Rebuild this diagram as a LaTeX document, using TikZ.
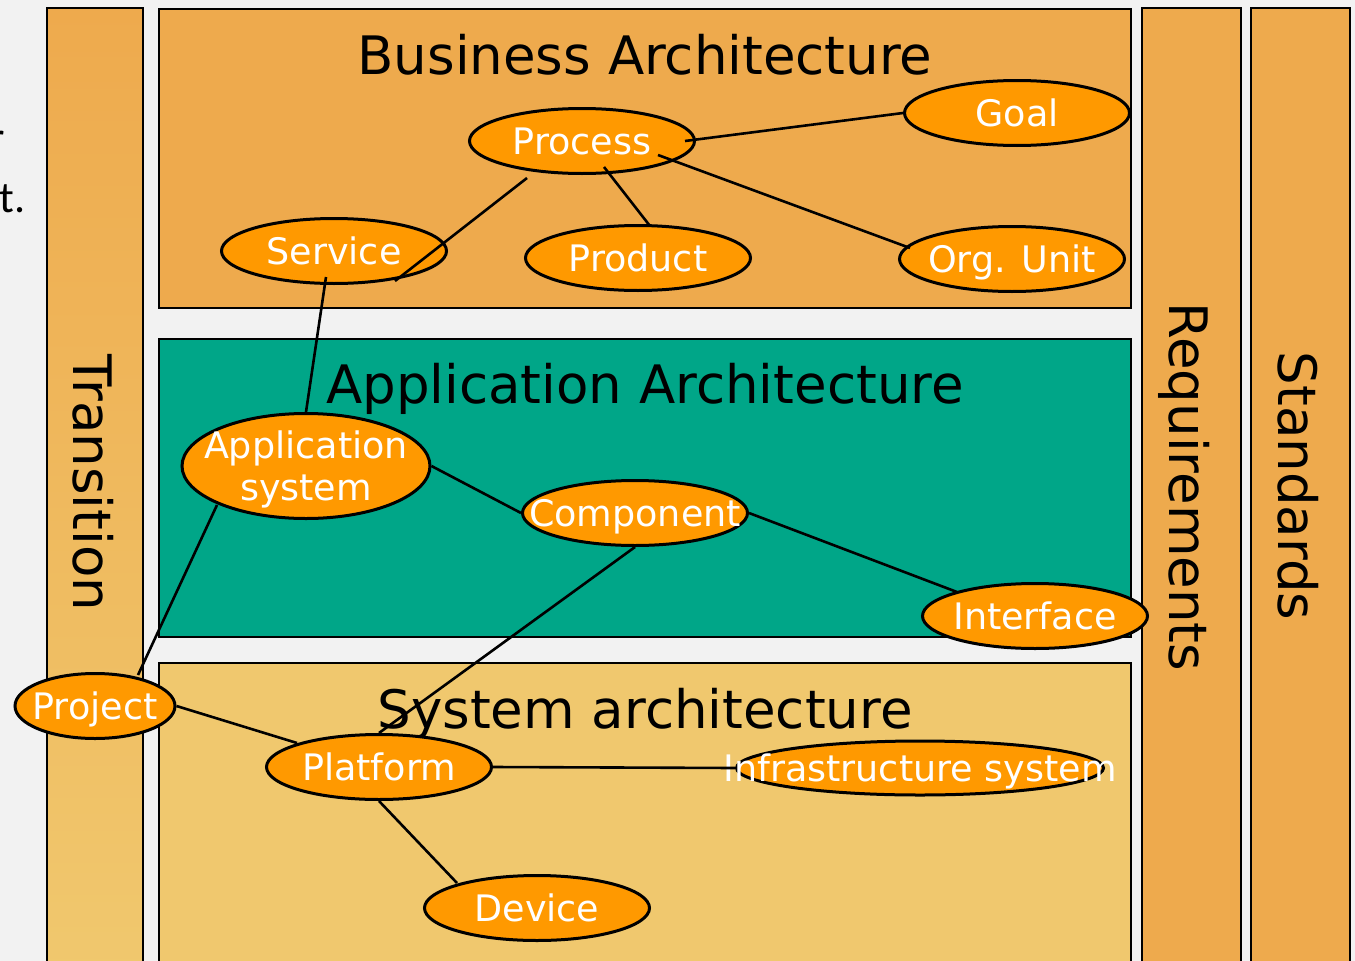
\documentclass[tikz,border=0pt]{standalone}
\usepackage{fontspec}
\setmainfont{DejaVu Sans}
\newfontfamily\slidefont{Carlito}
\usetikzlibrary{shapes.geometric}

\definecolor{pagebg}{HTML}{F2F2F2}
\definecolor{bizorange}{HTML}{EEAA4D}
\definecolor{appteal}{HTML}{00A688}
\definecolor{sysyellow}{HTML}{F0C86E}
\definecolor{ovalfill}{HTML}{FF9900}

% keeps the ellipse size independent of its text
\newcommand{\ovtext}[1]{\makebox[0pt]{#1}}

\begin{document}
\begin{tikzpicture}[x=1pt, y=-1pt,
    layer/.style={draw, line width=2.8pt},
    title/.style={anchor=base, inner sep=0pt, font=\fontsize{53}{60}\selectfont},
    side/.style={rotate=-90, inner sep=0pt, text height=38pt, text depth=0pt,
        font=\fontsize{53}{60}\selectfont},
    oval/.style={ellipse, draw, line width=3pt, fill=ovalfill, text=white,
        inner sep=0pt, minimum width=225pt, minimum height=65pt,
        text height=27pt, text depth=0pt, font=\fontsize{36.5}{42}\selectfont},
    link/.style={draw, line width=2.6pt}]
    \useasboundingbox[fill=pagebg] (0, 0) rectangle (1355, 961);

    % left-over slide text
    \node[anchor=base east, inner sep=0pt, font=\slidefont\fontsize{44}{50}\selectfont] at (5, 152)(cutr){r};
    \node[anchor=base east, inner sep=0pt, font=\slidefont\fontsize{44}{50}\selectfont] at (26, 212)(cutt){t.};

    % columns and layers
    \path[layer, top color=bizorange, bottom color=sysyellow] (47, 8) rectangle (143, 975);
    \path[layer, fill=bizorange] (159, 9) rectangle (1131, 308);
    \path[layer, fill=appteal] (159, 339) rectangle (1131, 637);
    \path[layer, fill=sysyellow] (159, 663) rectangle (1131, 975);
    \path[layer, fill=bizorange] (1142, 8) rectangle (1241, 975);
    \path[layer, fill=bizorange] (1251, 8) rectangle (1350, 975);

    \node[title] at (645, 74)(business){Business Architecture};
    \node[title] at (645, 403)(application){Application Architecture};
    \node[title] at (645, 728)(system){System architecture};
    \node[side] at (92, 483)(transition){Transition};
    \node[side] at (1188, 487)(requirements){Requirements};
    \node[side] at (1297, 486)(standards){Standards};

    % business
    \node[oval] at (582, 141)(process){\ovtext{Process}};
    \node[oval] at (1017, 113)(goal){\ovtext{Goal}};
    \node[oval] at (334, 251)(service){\ovtext{Service}};
    \node[oval] at (638, 258)(product){\ovtext{Product}};
    \node[oval] at (1012, 259)(orgunit){\ovtext{Org. Unit}};

    % application
    \node[oval, align=center, minimum width=248pt, minimum height=105pt,
        text height=68pt, text depth=0pt] at (306, 466)(appsystem){\ovtext{Application}\\\ovtext{system}};
    \node[oval] at (635, 513)(component){\ovtext{Component}};
    \node[oval] at (1035, 616)(interface){\ovtext{Interface}};

    % system
    \node[oval, minimum width=160pt] at (95, 706)(project){\ovtext{Project}};
    \node[oval] at (379, 767)(platform){\ovtext{Platform}};
    \node[oval, minimum width=367pt, minimum height=54pt] at (920, 768)(infra){\ovtext{Infrastructure system}};
    \node[oval] at (537, 908)(device){\ovtext{Device}};

    \path[link]
        ([shift={(103,0)}]process.center)edge(goal.west)
        ([shift={(76,14)}]process.center)edge([shift={(-102,-11)}]orgunit.center)
        ([shift={(22,26)}]process.center)edge([shift={(12,-32)}]product.center)
        ([shift={(-55,37)}]process.center)edge([shift={(61,30)}]service.center)
        ([shift={(-8,26)}]service.center)edge(appsystem.north)
        (appsystem.east)edge(component.west)
        ([shift={(-89,39)}]appsystem.center)edge([shift={(43,-31)}]project.center)
        (component.east)edge([shift={(-78,-24)}]interface.center)
        (component.south)edge(platform.north)
        (project.east)edge([shift={(-82,-24)}]platform.center)
        (platform.east)edge(infra.west)
        (platform.south)edge([shift={(-80,-25)}]device.center)
        ;
\end{tikzpicture}
\end{document}
